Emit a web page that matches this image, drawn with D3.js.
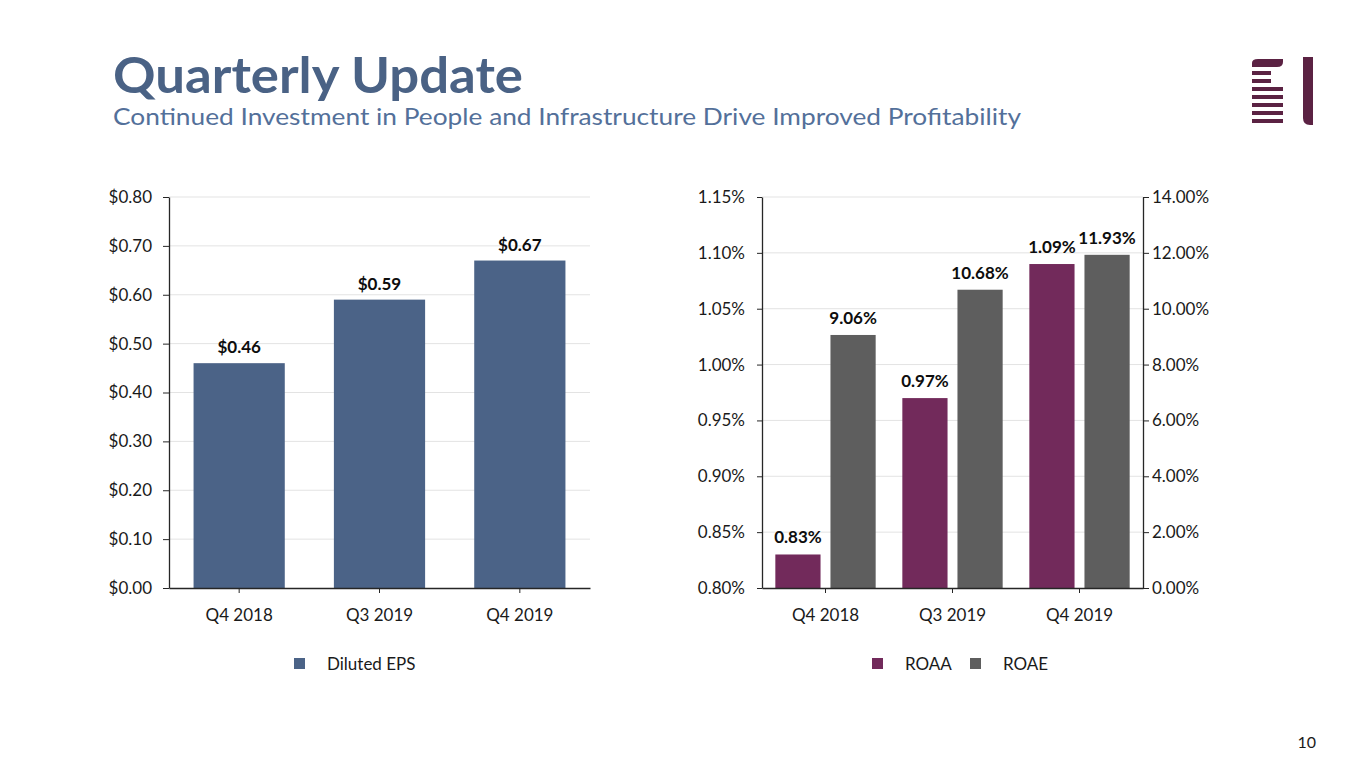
<!DOCTYPE html>
<html><head><meta charset="utf-8">
<script src="https://cdn.jsdelivr.net/npm/d3@7"></script>
<style>body{margin:0;background:#fff}svg{display:block}text{font-family:Lato,"Open Sans",sans-serif}</style>
</head><body>
<svg id="c" width="1365" height="768"></svg>
<script>
const categories = ["Q4 2018", "Q3 2019", "Q4 2019"];
const epsValues = [0.46, 0.59, 0.67];
const epsLabels = ["$0.46", "$0.59", "$0.67"];
const epsTicks = [0, 0.1, 0.2, 0.3, 0.4, 0.5, 0.6, 0.7, 0.8];
const roaaValues = [0.83, 0.97, 1.09];
const roaeValues = [9.06, 10.68, 11.93];
const roaaTicks = [0.80, 0.85, 0.90, 0.95, 1.00, 1.05, 1.10, 1.15];
const roaeTicks = [0, 2, 4, 6, 8, 10, 12, 14];
const series = ["ROAA", "ROAE"];

const svg = d3.select("#c");
const BLUE = "#4b6387", PLUM = "#722a5b", GREY = "#5e5e5e";
const AXIS = "#262626", GRID = "#e3e3e3", TXT = "#1a1a1a";
const FS = "17px";

// Title
svg.append("text").attr("x", 113).attr("y", 93).attr("fill", "#4a6285")
  .style("font-weight", 700).style("font-size", "50px")
  .attr("textLength", 410).attr("lengthAdjust", "spacingAndGlyphs").text("Quarterly Update");
svg.append("text").attr("x", 113).attr("y", 125).attr("fill", "#53709a")
  .style("font-size", "23.5px")
  .attr("textLength", 908).attr("lengthAdjust", "spacingAndGlyphs")
  .text("Continued Investment in People and Infrastructure Drive Improved Profitability");

// Logo
const logo = svg.append("g").attr("fill", "#5b2243");
logo.append("path").attr("d", "M1252,67 L1252,63 Q1252,59 1258,59 L1283,59 L1283,62 Q1283,67 1277,67 Z");
[[71,1271],[79,1271],[87,1283],[95,1283],[103,1283],[111,1283],[119,1283]].forEach(r=>{
  logo.append("rect").attr("x",1252).attr("y",r[0]).attr("width",r[1]-1252).attr("height",4);
});
logo.append("path").attr("d", "M1303,57 L1313,57 L1313,125 L1310,125 Q1303,125 1303,118 Z");

// Page number
svg.append("text").attr("x", 1316).attr("y", 748).attr("text-anchor", "end")
  .attr("fill", TXT).style("font-size", "16px").text("10");

// ---------- Left chart ----------
const L = {x0: 169, x1: 590, y0: 588, y1: 197};
const xL = d3.scaleBand().domain(categories).range([L.x0, L.x1]).paddingInner(0.35).paddingOuter(0.175);
const yL = d3.scaleLinear().domain([0, 0.8]).range([L.y0, L.y1]);

const gL = svg.append("g");
gL.append("g").selectAll("line").data(epsTicks.filter(d=>d>0)).join("line")
  .attr("x1", L.x0).attr("x2", L.x1).attr("y1", d=>yL(d)).attr("y2", d=>yL(d))
  .attr("stroke", GRID).attr("stroke-width", 1);

const axL = gL.append("g").attr("transform", `translate(${L.x0},0)`)
  .call(d3.axisLeft(yL).tickValues(epsTicks).tickFormat(d=>"$"+d3.format(".2f")(d)).tickSize(6).tickSizeOuter(0).tickPadding(11));
gL.selectAll("rect.bar").data(categories).join("rect").attr("class","bar")
  .attr("x", d=>xL(d)).attr("width", xL.bandwidth())
  .attr("y", (d,i)=>yL(epsValues[i])).attr("height", (d,i)=>yL(0)-yL(epsValues[i]))
  .attr("fill", BLUE);
const axLB = gL.append("g").attr("transform", `translate(0,${L.y0})`)
  .call(d3.axisBottom(xL).tickSize(5).tickSizeOuter(0).tickPadding(16));
gL.selectAll("text.lbl").data(categories).join("text").attr("class","lbl")
  .attr("x", d=>xL(d)+xL.bandwidth()/2).attr("y", (d,i)=>yL(epsValues[i])-10)
  .attr("text-anchor","middle").style("font-weight",700).style("font-size",FS).attr("fill","#0d0d0d")
  .text((d,i)=>epsLabels[i]);

// ---------- Right chart ----------
const R = {x0: 762, x1: 1143, y0: 588, y1: 197};
const xR = d3.scaleBand().domain(categories).range([R.x0, R.x1]).paddingInner(0.21).paddingOuter(0.105);
const xS = d3.scaleBand().domain(series).range([0, xR.bandwidth()]).paddingInner(0.18);
const yRA = d3.scaleLinear().domain([0.80, 1.15]).range([R.y0, R.y1]);
const yRE = d3.scaleLinear().domain([0, 14]).range([R.y0, R.y1]);

const gR = svg.append("g");
gR.append("g").selectAll("line").data(roaaTicks.filter(d=>d>0.8)).join("line")
  .attr("x1", R.x0).attr("x2", R.x1).attr("y1", d=>yRA(d)).attr("y2", d=>yRA(d))
  .attr("stroke", GRID).attr("stroke-width", 1);
const axRA = gR.append("g").attr("transform", `translate(${R.x0},0)`)
  .call(d3.axisLeft(yRA).tickValues(roaaTicks).tickFormat(d=>d3.format(".2f")(d)+"%").tickSize(5).tickSizeOuter(0).tickPadding(12));
const axRE = gR.append("g").attr("transform", `translate(${R.x1},0)`)
  .call(d3.axisRight(yRE).tickValues(roaeTicks).tickFormat(d=>d3.format(".2f")(d)+"%").tickSize(6).tickSizeOuter(0).tickPadding(3));

const grp = gR.selectAll("g.grp").data(categories).join("g").attr("class","grp")
  .attr("transform", d=>`translate(${xR(d)},0)`);
grp.append("rect").attr("x", xS("ROAA")).attr("width", xS.bandwidth())
  .attr("y", (d,i)=>yRA(roaaValues[i])).attr("height", (d,i)=>yRA(0.80)-yRA(roaaValues[i])).attr("fill", PLUM);
grp.append("rect").attr("x", xS("ROAE")).attr("width", xS.bandwidth())
  .attr("y", (d,i)=>yRE(roaeValues[i])).attr("height", (d,i)=>yRE(0)-yRE(roaeValues[i])).attr("fill", GREY);
grp.append("text").attr("x", xS("ROAA")+xS.bandwidth()/2).attr("y", (d,i)=>yRA(roaaValues[i])-11)
  .attr("text-anchor","middle").style("font-weight",700).style("font-size",FS).attr("fill","#0d0d0d")
  .text((d,i)=>d3.format(".2f")(roaaValues[i])+"%");
grp.append("text").attr("x", xS("ROAE")+xS.bandwidth()/2).attr("y", (d,i)=>yRE(roaeValues[i])-11)
  .attr("text-anchor","middle").style("font-weight",700).style("font-size",FS).attr("fill","#0d0d0d")
  .text((d,i)=>d3.format(".2f")(roaeValues[i])+"%");
const axRB = gR.append("g").attr("transform", `translate(0,${R.y0})`)
  .call(d3.axisBottom(xR).tickSize(5).tickSizeOuter(0).tickPadding(16));

// axis styling
[axL, axLB, axRA, axRE, axRB].forEach(a=>{
  a.selectAll("path").attr("stroke", AXIS).attr("stroke-width", 1.3);
  a.selectAll("line").attr("stroke", AXIS);
  a.selectAll("text").attr("fill", TXT).style("font-size",FS).style("font-family","Lato");
});

// Legends
function legend(items, colors, xs, ts){
  items.forEach((t,i)=>{
    svg.append("rect").attr("x", xs[i]).attr("y", 658).attr("width", 11).attr("height", 11).attr("fill", colors[i]);
    svg.append("text").attr("x", ts[i]).attr("y", 670).attr("fill", TXT).style("font-size",FS).text(t);
  });
}
legend(["Diluted EPS"], [BLUE], [294], [327]);
legend(series, [PLUM, GREY], [872, 970], [905, 1003]);
</script>
</body></html>
